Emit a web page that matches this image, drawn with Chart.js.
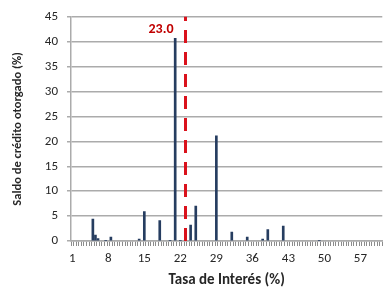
<!DOCTYPE html>
<html>
<head>
<meta charset="utf-8">
<title>Saldo de crédito por tasa de interés</title>
<script src="https://cdn.jsdelivr.net/npm/chart.js"></script>
<style>
    html, body { margin: 0; padding: 0; background: #fff; }
    #wrap { width: 386px; height: 289px; }
</style>
</head>
<body>
<div id="wrap"><canvas id="rate-chart"></canvas></div>
<script>
'use strict';

// interest-rate axis: 1% .. 61% in half-point steps
const rateStart = 1;
const rateEnd = 61;
const rateStep = 0.5;

// rates that carry some credit, and their share of the balance (%)
const barRates  = [5, 5.5, 6, 7.5, 8.5, 14, 15, 18, 20, 21, 22, 24, 25, 29, 32, 35, 38, 39, 42, 49];
const barShares = [4.4, 1.2, 0.5, 0.1, 0.8, 0.4, 5.9, 4.1, 0.1, 40.7, 0.1, 3.2, 7.0, 21.1, 1.8, 0.8, 0.4, 2.3, 3.0, 0.1];

// labels that are printed under the x axis
const tickLabels = ['1', '8', '15', '22', '29', '36', '43', '50', '57'];

// reference rate marked with the dashed line
const refRate = 23.0;

const fontFamily = "Carlito, Lato, 'Open Sans', sans-serif";
const textColor = '#262626';
const barColor = '#263d60';
const refColor = 'rgb(218, 18, 28)';
const gridColor = '#ababab';

let categories = [];
for (let r = rateStart; r <= rateEnd; r += rateStep) {
    categories.push(String(r));
}

const shares = categories.map(function (c) {
    const k = barRates.indexOf(Number(c));
    return k >= 0 ? barShares[k] : null;
});

// dashed vertical line at the reference rate, placed with the chart scales
const refLinePlugin = {
    id: 'refLine',
    afterDatasetsDraw(chart) {
        const ctx = chart.ctx;
        const x = chart.scales.x;
        const y = chart.scales.y;
        const px = x.getPixelForValue(categories.indexOf(String(refRate)));
        ctx.save();
        ctx.beginPath();
        ctx.rect(chart.chartArea.left, chart.chartArea.top, chart.chartArea.width, chart.chartArea.height);
        ctx.clip();
        ctx.strokeStyle = refColor;
        ctx.lineWidth = 3;
        ctx.setLineDash([13, 9]);
        ctx.beginPath();
        ctx.moveTo(px, y.getPixelForValue(0));
        ctx.lineTo(px, y.getPixelForValue(45) - 4);
        ctx.stroke();
        ctx.restore();

        ctx.save();
        ctx.fillStyle = '#c00000';
        ctx.font = 'bold 14px ' + fontFamily;
        ctx.textAlign = 'right';
        ctx.textBaseline = 'middle';
        ctx.fillText(refRate.toFixed(1), px - 12, y.getPixelForValue(42.5));
        ctx.restore();
    }
};

const ctx = document.getElementById('rate-chart').getContext('2d');

new Chart(ctx, {
    type: 'bar',
    data: {
        labels: categories,
        datasets: [{
            label: 'Saldo de crédito otorgado (%)',
            data: shares,
            backgroundColor: barColor,
            borderWidth: 0,
            barThickness: 2
        }]
    },
    options: {
        responsive: true,
        maintainAspectRatio: false,
        animation: false,
        events: [],
        layout: {
            padding: { top: 16, right: 0, bottom: 0, left: 0 }
        },
        scales: {
            x: {
                type: 'category',
                offset: true,
                afterFit: function (scale) { scale.height = 48; },
                border: { color: gridColor, width: 1.5 },
                grid: {
                    offset: true,
                    drawOnChartArea: false,
                    drawTicks: true,
                    tickLength: 5,
                    color: '#8c8c8c',
                    lineWidth: 1
                },
                ticks: {
                    autoSkip: false,
                    maxRotation: 0,
                    padding: 5,
                    color: textColor,
                    font: { family: fontFamily, size: 13 },
                    callback: function (value) {
                        const lab = this.getLabelForValue(value);
                        return tickLabels.includes(lab) ? lab : '';
                    }
                },
                title: {
                    display: true,
                    text: 'Tasa de Interés (%)',
                    color: textColor,
                    font: { family: fontFamily, size: 15, weight: 'bold' },
                    padding: { top: 1, bottom: 0 }
                }
            },
            y: {
                min: 0,
                max: 45,
                afterFit: function (scale) { scale.width = 71; },
                border: { color: gridColor, width: 1.5 },
                grid: {
                    color: gridColor,
                    lineWidth: 1.5,
                    tickLength: 4
                },
                ticks: {
                    stepSize: 5,
                    padding: 9,
                    color: textColor,
                    font: { family: fontFamily, size: 13 }
                },
                title: {
                    display: true,
                    text: 'Saldo de crédito otorgado (%)',
                    color: textColor,
                    font: { family: fontFamily, size: 12.5, weight: 'bold' },
                    padding: { top: 10, bottom: 0 }
                }
            }
        },
        plugins: {
            legend: { display: false },
            tooltip: { enabled: false }
        }
    },
    plugins: [refLinePlugin]
});
</script>
</body>
</html>
